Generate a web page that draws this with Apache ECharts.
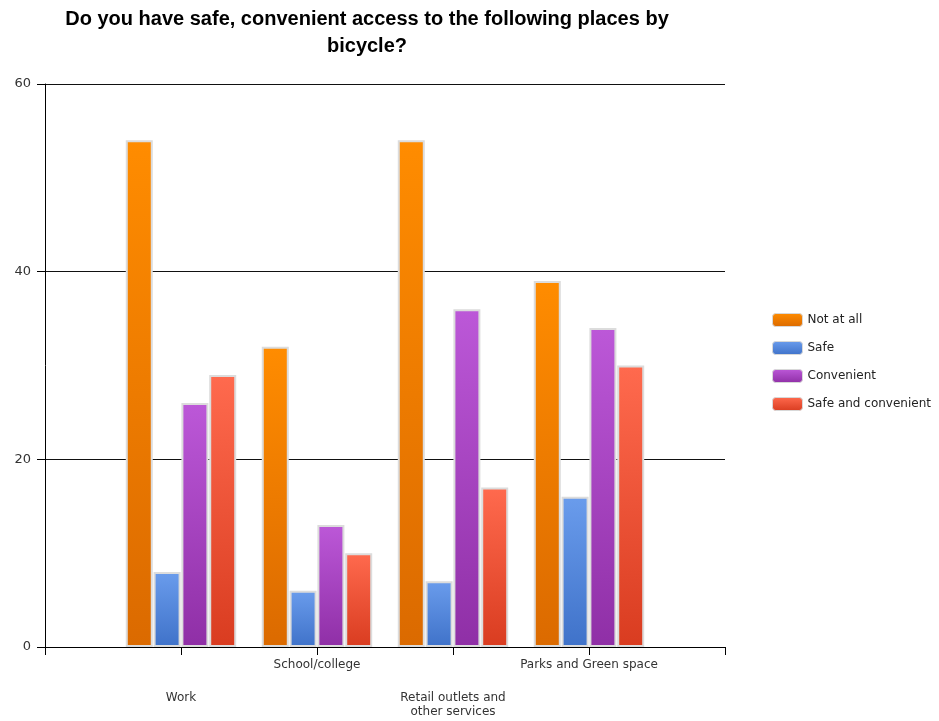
<!DOCTYPE html>
<html><head><meta charset="utf-8">
<script src="https://cdn.jsdelivr.net/npm/echarts@6/dist/echarts.min.js"></script>
<style>html,body{margin:0;padding:0;background:#fff}#c{width:939px;height:721px}</style>
</head><body><div id="c"></div>
<script>
const titleText = 'Do you have safe, convenient access to the following places by\nbicycle?';
const categories = ['Work', 'School/college', 'Retail outlets and\nother services', 'Parks and Green space'];
const seriesNames = ['Not at all', 'Safe', 'Convenient', 'Safe and convenient'];
const notAtAll = [54, 32, 54, 39];
const safe = [8, 6, 7, 16];
const convenient = [26, 13, 36, 34];
const safeAndConvenient = [29, 10, 17, 30];
const yTicks = [0, 20, 40, 60];

const gradients = [
  ['#ff8c00', '#db6a00'],
  ['#6a9cec', '#3f72c9'],
  ['#bc58d8', '#8f2fa6'],
  ['#ff6a4e', '#d93c20']
];
const allValues = [notAtAll, safe, convenient, safeAndConvenient];
const axisCats = [''].concat(categories, ['']);

const chart = echarts.init(document.getElementById('c'), null, {renderer: 'canvas'});
const font = 'DejaVu Sans';
chart.setOption({
  animation: false,
  backgroundColor: '#ffffff',
  title: {
    text: titleText,
    left: 362, top: 1, textAlign: 'center',
    textStyle: {fontFamily: 'Liberation Sans', fontWeight: 'bold', fontSize: 20, color: '#000', lineHeight: 27}
  },
  legend: {
    orient: 'vertical', left: 772, top: 313, padding: 0,
    itemWidth: 30, itemHeight: 13, itemGap: 14,
    textStyle: {fontFamily: font, fontSize: 12, color: '#222'},
    itemStyle: {borderColor: '#d8d8d8', borderWidth: 1},
    data: seriesNames
  },
  grid: {left: 45, right: 214, top: 84, bottom: 74, containLabel: false},
  xAxis: {
    type: 'category', data: axisCats, boundaryGap: false,
    axisLine: {show: true, lineStyle: {color: '#000', width: 1}},
    axisTick: {show: true, interval: 0, length: 8, lineStyle: {color: '#000'}},
    axisLabel: {
      interval: 0, margin: 11, color: '#333',
      fontFamily: font, fontSize: 12,
      formatter: function (v, i) {
        if (!v) return '';
        const lines = v.split('\n').map(l => '{t|' + l + '}').join('\n');
        return (i % 2 === 1) ? '{sp| }\n' + lines : lines;
      },
      rich: {
        sp: {lineHeight: 33, height: 33, fontSize: 12},
        t: {lineHeight: 14, fontSize: 12, fontFamily: font, color: '#333'}
      }
    },
    splitLine: {show: false}
  },
  yAxis: {
    type: 'value', min: yTicks[0], max: yTicks[yTicks.length - 1], interval: 20,
    axisLine: {show: true, lineStyle: {color: '#000', width: 1}},
    axisTick: {show: true, length: 8, lineStyle: {color: '#000'}},
    axisLabel: {color: '#333', fontFamily: font, fontSize: 13, margin: 14},
    splitLine: {show: true, lineStyle: {color: '#111', width: 1}}
  },
  series: seriesNames.map((name, k) => ({
    name: name, type: 'bar',
    barWidth: 27, barGap: '3%',
    data: ['-'].concat(allValues[k], ['-']),
    itemStyle: {
      color: new echarts.graphic.LinearGradient(0, 0, 0, 1, [
        {offset: 0, color: gradients[k][0]},
        {offset: 1, color: gradients[k][1]}
      ]),
      borderColor: '#dcdcdc', borderWidth: 2
    }
  }))
});
</script></body></html>
